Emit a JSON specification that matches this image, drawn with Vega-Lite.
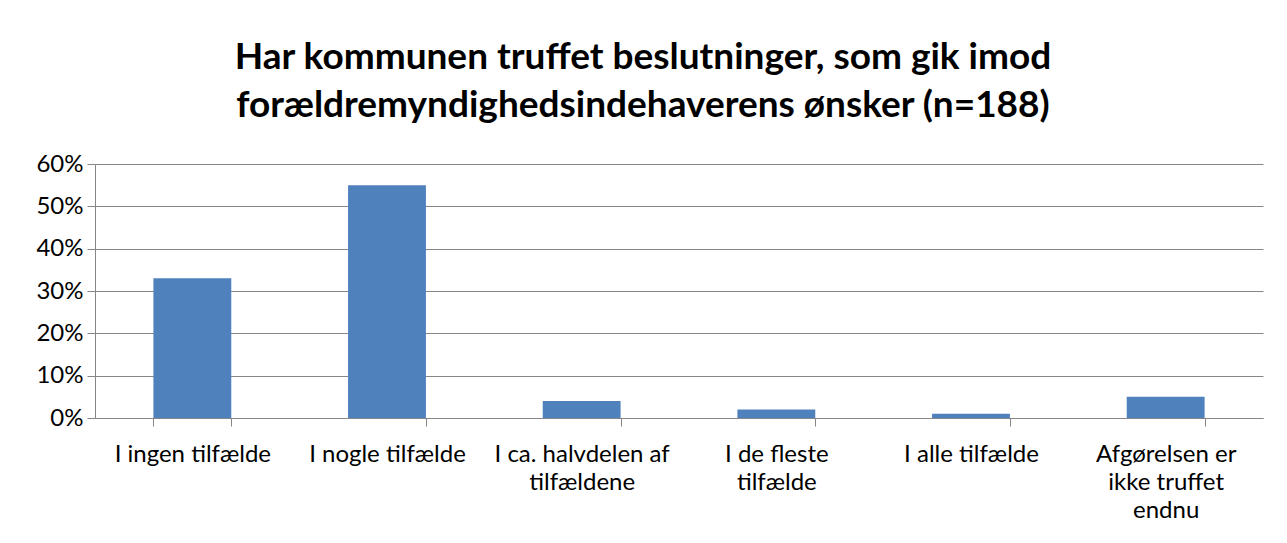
{
  "$schema": "https://vega.github.io/schema/vega-lite/v6.json",
  "width": 1168,
  "height": 254,
  "autosize": "none",
  "padding": {"left": 95, "right": 24, "top": 164, "bottom": 125},
  "background": "white",
  "title": {
    "text": ["Har kommunen truffet beslutninger, som gik imod", "forældremyndighedsindehaverens ønsker (n=188)"],
    "font": "Lato",
    "fontSize": 37,
    "fontWeight": "bold",
    "color": "#000000",
    "lineHeight": 48,
    "anchor": "middle",
    "dx": -36,
    "offset": 27
  },
  "data": {
    "values": [
      {"kategori": "I ingen tilfælde", "andel": 0.33},
      {"kategori": "I nogle tilfælde", "andel": 0.55},
      {"kategori": "I ca. halvdelen af|tilfældene", "andel": 0.04},
      {"kategori": "I de fleste|tilfælde", "andel": 0.02},
      {"kategori": "I alle tilfælde", "andel": 0.01},
      {"kategori": "Afgørelsen er|ikke truffet|endnu", "andel": 0.05}
    ]
  },
  "mark": {"type": "bar", "color": "#4F81BD"},
  "encoding": {
    "x": {
      "field": "kategori",
      "type": "nominal",
      "sort": null,
      "title": null,
      "scale": {"paddingInner": 0.6, "paddingOuter": 0.3},
      "axis": {
        "labelExpr": "isString(datum.value) ? split(datum.value, '|') : ''",
        "labelAngle": 0,
        "labelFont": "Lato",
        "labelFontSize": 24,
        "labelColor": "#000000",
        "labelLineHeight": 28,
        "labelPadding": 16,
        "labelLimit": 250,
        "tickBand": "extent",
        "tickColor": "#868686",
        "tickSize": 8,
        "domainColor": "#868686",
        "grid": false
      }
    },
    "y": {
      "field": "andel",
      "type": "quantitative",
      "title": null,
      "scale": {"domain": [0, 0.6], "nice": false},
      "axis": {
        "format": ".0%",
        "values": [0, 0.1, 0.2, 0.3, 0.4, 0.5, 0.6],
        "labelFont": "Lato",
        "labelFontSize": 24,
        "labelColor": "#000000",
        "labelPadding": 4,
        "tickColor": "#868686",
        "tickSize": 8,
        "domainColor": "#868686",
        "gridColor": "#868686",
        "grid": true
      }
    }
  },
  "config": {"view": {"stroke": null}}
}
